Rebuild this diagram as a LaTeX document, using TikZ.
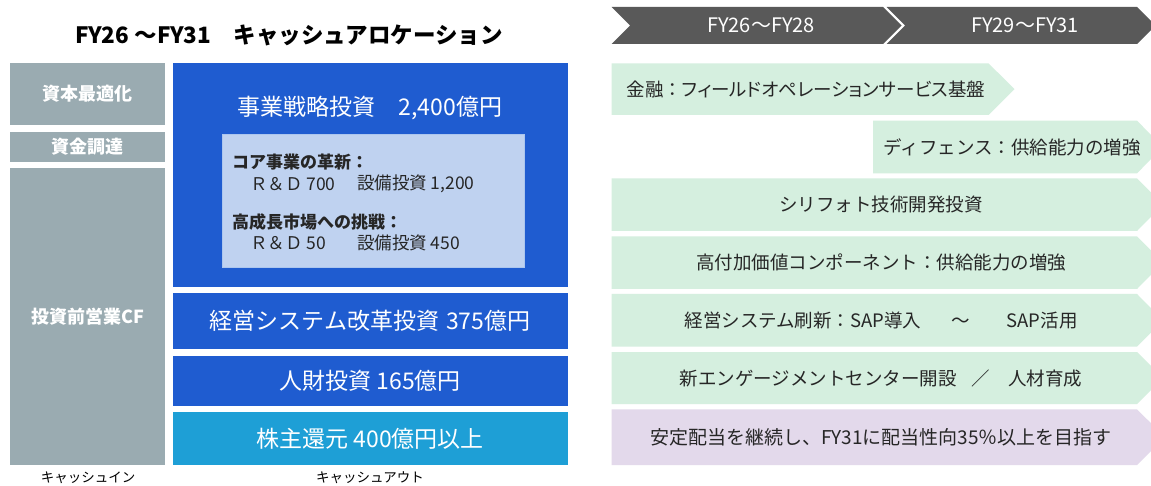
\documentclass[tikz,border=0pt]{standalone}
\usepackage{fontspec}
\setmainfont{Noto Sans CJK JP}
\newfontfamily\jpp[RawFeature=+palt]{Noto Sans CJK JP}
\usetikzlibrary{positioning}
\definecolor{cgray}{RGB}{154,171,177}
\definecolor{cblue}{RGB}{31,92,208}
\definecolor{ccyan}{RGB}{30,159,214}
\definecolor{cinner}{RGB}{191,210,240}
\definecolor{cinnerb}{RGB}{172,198,238}
\definecolor{cdark}{RGB}{89,89,89}
\definecolor{cgreen}{RGB}{213,239,223}
\definecolor{cpurple}{RGB}{227,217,235}
\definecolor{ctext}{RGB}{38,38,38}
\newcommand{\fs}[1]{\fontsize{#1}{#1}\selectfont}
\tikzset{
  box/.style={inner sep=0pt, outer sep=0pt, anchor=north west},
  graybox/.style={box, fill=cgray, text=white, font=\fs{18}\bfseries},
  bluebox/.style={box, fill=cblue, text=white, font=\fs{23}},
  lbl/.style={inner sep=0pt, outer sep=0pt},
  rowtxt/.style={lbl, text=ctext, font=\fs{18.5}},
  innertxt/.style={lbl, anchor=west, text=ctext, font=\fs{17.5}},
}
\begin{document}
\begin{tikzpicture}[x=1pt,y=-1pt]
\useasboundingbox (0,0) rectangle (1151,486);
\fill[white] (0,0) rectangle (1151,486);

% title
\node[lbl, font=\fs{22.5}\bfseries] (title) at (289,35) {FY26 ～FY31　キャッシュアロケーション};

% left gray column
\node[graybox, minimum width=155, minimum height=62.5] (capopt) at (10,62.7) {資本最適化};
\node[graybox, minimum width=155, minimum height=30] (fund) at (10,131.7) {資金調達};
\node[graybox, minimum width=155, minimum height=297] (opcf) at (10,168) {投資前営業CF};

% blue column
\node[bluebox, minimum width=395, minimum height=224.6] (strat) at (172.7,62.7) {};
\node[lbl, text=white, font=\fs{23}] (strattxt) at (370,108) {事業戦略投資　2,400億円};
\node[box, fill=cinner, draw=cinnerb, line width=1pt, minimum width=302, minimum height=133] (inner) at (222,135) {};
\node[innertxt, font=\fs{17}\bfseries] (core) at (232,162) {コア事業の革新：};
\node[innertxt] (core1) at (250,184) {Ｒ＆Ｄ 700};
\node[innertxt] (core2) at (357,184) {設備投資 1,200};
\node[innertxt, font=\fs{17}\bfseries] (grow) at (232,222) {高成長市場への挑戦：};
\node[innertxt] (grow1) at (250,243) {Ｒ＆Ｄ 50};
\node[innertxt] (grow2) at (357,243) {設備投資 450};

\node[bluebox, minimum width=395, minimum height=56.3] (sys) at (172.7,292.7) {経営システム改革投資\hspace{0.3em}375億円};
\node[bluebox, minimum width=395, minimum height=49.7] (hr) at (172.7,356) {人財投資 165億円};
\node[bluebox, fill=ccyan, minimum width=395, minimum height=53.3] (sh) at (172.7,411.7) {株主還元 400億円以上};

% bottom labels
\node[lbl, font=\fs{13.5}] (cin) at (88,478) {キャッシュイン};
\node[lbl, font=\fs{13.5}] (cout) at (370,478) {キャッシュアウト};

% right side
\begin{scope}
\clip (0,0) rectangle (1151,486);
% header chevrons
\fill[cdark] (611.7,7) -- (883,7) -- (901.5,25.5) -- (883,44) -- (611.7,44) -- (630.2,25.5) -- cycle;
\fill[cdark] (886.5,7) -- (1137,7) -- (1155.5,25.5) -- (1137,44) -- (886.5,44) -- (905,25.5) -- cycle;
% rows
\fill[cgreen] (611.7,63.3) -- (988.5,63.3) -- (1014.5,89.2) -- (988.5,115) -- (611.7,115) -- cycle;
\fill[cgreen] (873,120.7) -- (1137,120.7) -- (1163,147) -- (1137,173.3) -- (873,173.3) -- cycle;
\fill[cgreen] (611.7,178.3) -- (1137,178.3) -- (1163,204.6) -- (1137,231) -- (611.7,231) -- cycle;
\fill[cgreen] (611.7,236.3) -- (1137,236.3) -- (1163,262.6) -- (1137,289) -- (611.7,289) -- cycle;
\fill[cgreen] (611.7,294) -- (1137,294) -- (1163,320.3) -- (1137,346.7) -- (611.7,346.7) -- cycle;
\fill[cgreen] (611.7,352) -- (1137,352) -- (1163,378) -- (1137,404) -- (611.7,404) -- cycle;
\fill[cpurple] (611.7,409.3) -- (1137,409.3) -- (1165,437.2) -- (1137,465) -- (611.7,465) -- cycle;
\end{scope}

\node[lbl, text=white, font=\fs{20}] (h1) at (761,25.5) {FY26～FY28};
\node[lbl, text=white, font=\fs{20}] (h2) at (1025,25.5) {FY29～FY31};

\node[rowtxt] (r1) at (806,89.2) {\jpp 金融\hspace{0.25em}：\hspace{0.25em}フィールドオペレーションサービス基盤};
\node[rowtxt] (r2) at (1012,147) {ディフェンス：供給能力の増強};
\node[rowtxt] (r3) at (881,204.6) {シリフォト技術開発投資};
\node[rowtxt] (r4) at (881,262.6) {高付加価値コンポーネント：供給能力の増強};
\node[rowtxt] (r5) at (881,320.3) {経営システム刷新：SAP導入\hspace{1.6em}～\hspace{2em}SAP活用};
\node[rowtxt] (r6) at (881,378) {新エンゲージメントセンター開設\hspace{0.8em}／\hspace{1em}人材育成};
\node[rowtxt, font=\fs{19}] (r7) at (881,437.2) {安定配当を継続し、FY31に配当性向35％以上を目指す};
\end{tikzpicture}
\end{document}
